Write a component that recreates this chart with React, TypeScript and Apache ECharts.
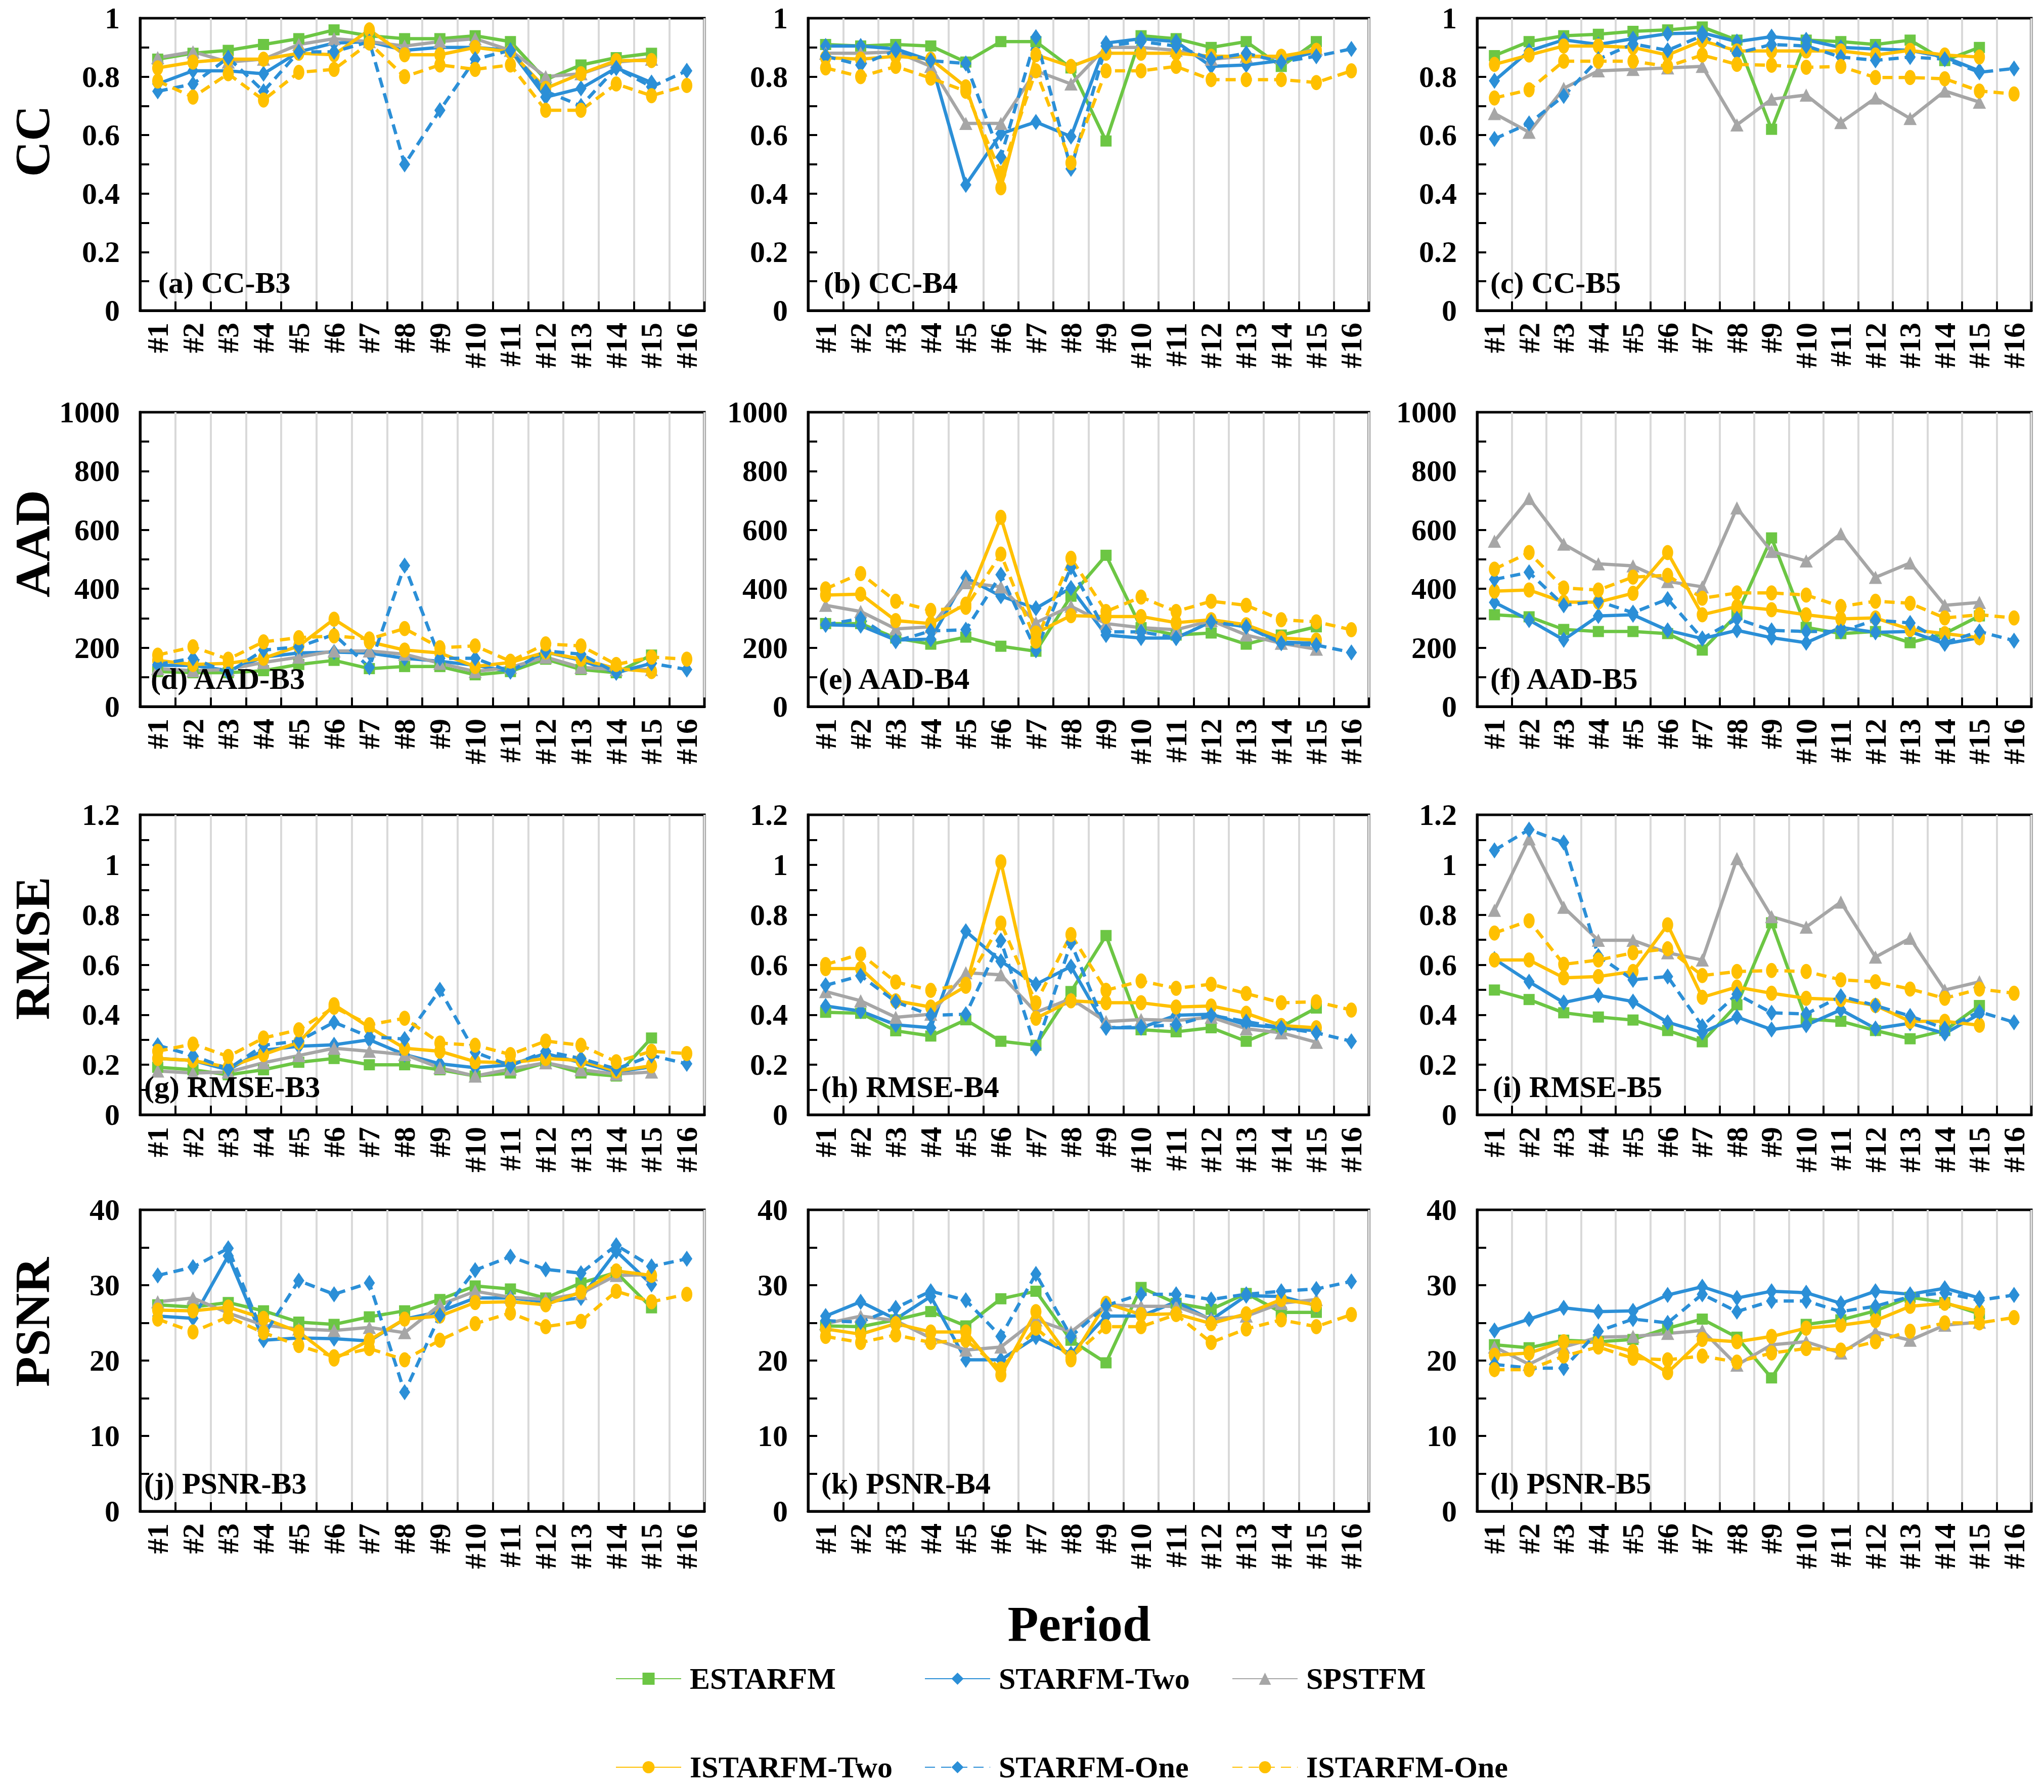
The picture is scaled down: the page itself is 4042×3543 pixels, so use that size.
import React, { useEffect, useRef } from 'react';
import * as echarts from 'echarts';

const PERIODS = ['#1', '#2', '#3', '#4', '#5', '#6', '#7', '#8', '#9', '#10', '#11', '#12', '#13', '#14', '#15', '#16'];
const METHODS = ['ESTARFM', 'STARFM-Two', 'SPSTFM', 'ISTARFM-Two', 'STARFM-One', 'ISTARFM-One'];
const ROW_NAMES = ['CC', 'AAD', 'RMSE', 'PSNR'];
const ROW_MAX = [1, 1000, 1.2, 40];
const ROW_INTERVAL = [0.2, 200, 0.2, 10];
const PANEL_LABELS = ['(a) CC-B3', '(b) CC-B4', '(c) CC-B5', '(d) AAD-B3', '(e) AAD-B4', '(f) AAD-B5', '(g) RMSE-B3', '(h) RMSE-B4', '(i) RMSE-B5', '(j) PSNR-B3', '(k) PSNR-B4', '(l) PSNR-B5'];

// each panel: [ESTARFM, STARFM-Two, SPSTFM, ISTARFM-Two, STARFM-One, ISTARFM-One]
const CC_B3 = [
  [0.86, 0.88, 0.89, 0.91, 0.93, 0.96, 0.94, 0.93, 0.93, 0.94, 0.92, 0.79, 0.84, 0.865, 0.88],
  [0.775, 0.82, 0.82, 0.81, 0.885, 0.915, 0.92, 0.89, 0.9, 0.9, 0.89, 0.73, 0.76, 0.83, 0.78],
  [0.865, 0.885, 0.85, 0.86, 0.91, 0.93, 0.92, 0.905, 0.92, 0.93, 0.89, 0.8, 0.81, 0.85, 0.86],
  [0.83, 0.85, 0.86, 0.86, 0.88, 0.875, 0.96, 0.875, 0.875, 0.9, 0.885, 0.76, 0.81, 0.855, 0.855],
  [0.75, 0.775, 0.865, 0.75, 0.885, 0.885, 0.92, 0.5, 0.685, 0.86, 0.89, 0.75, 0.7, 0.83, 0.765, 0.82],
  [0.785, 0.73, 0.81, 0.72, 0.815, 0.825, 0.915, 0.8, 0.84, 0.825, 0.84, 0.685, 0.685, 0.775, 0.735, 0.77],
];
const CC_B4 = [
  [0.91, 0.905, 0.91, 0.905, 0.85, 0.92, 0.92, 0.83, 0.58, 0.94, 0.93, 0.9, 0.92, 0.835, 0.92],
  [0.905, 0.905, 0.895, 0.855, 0.43, 0.605, 0.645, 0.595, 0.915, 0.93, 0.92, 0.835, 0.84, 0.855, 0.885],
  [0.88, 0.88, 0.885, 0.835, 0.64, 0.64, 0.82, 0.775, 0.9, 0.9, 0.89, 0.86, 0.87, 0.865, 0.895],
  [0.865, 0.86, 0.87, 0.86, 0.765, 0.42, 0.875, 0.835, 0.88, 0.88, 0.88, 0.87, 0.87, 0.87, 0.89],
  [0.87, 0.84, 0.89, 0.855, 0.845, 0.525, 0.935, 0.485, 0.905, 0.92, 0.905, 0.86, 0.88, 0.85, 0.87, 0.895],
  [0.83, 0.8, 0.835, 0.795, 0.75, 0.47, 0.82, 0.505, 0.82, 0.82, 0.835, 0.79, 0.79, 0.79, 0.78, 0.82],
];
const CC_B5 = [
  [0.872, 0.92, 0.94, 0.945, 0.955, 0.96, 0.97, 0.925, 0.62, 0.925, 0.92, 0.91, 0.925, 0.855, 0.9],
  [0.786, 0.888, 0.926, 0.91, 0.93, 0.947, 0.95, 0.92, 0.937, 0.926, 0.9, 0.895, 0.89, 0.867, 0.82],
  [0.674, 0.61, 0.76, 0.82, 0.825, 0.83, 0.835, 0.635, 0.723, 0.737, 0.643, 0.727, 0.657, 0.751, 0.713],
  [0.842, 0.874, 0.905, 0.905, 0.9, 0.874, 0.923, 0.888, 0.888, 0.888, 0.888, 0.874, 0.89, 0.874, 0.867],
  [0.587, 0.64, 0.734, 0.86, 0.912, 0.89, 0.94, 0.88, 0.91, 0.905, 0.867, 0.856, 0.867, 0.86, 0.815, 0.828],
  [0.727, 0.755, 0.853, 0.853, 0.853, 0.835, 0.874, 0.842, 0.839, 0.832, 0.835, 0.797, 0.797, 0.793, 0.751, 0.741],
];
const AAD_B3 = [
  [119, 115, 115, 122, 143, 157, 129, 136, 136, 108, 119, 161, 126, 115, 175],
  [140, 140, 122, 168, 182, 185, 182, 164, 154, 140, 119, 185, 157, 115, 147],
  [129, 122, 126, 150, 168, 189, 189, 178, 147, 119, 133, 168, 133, 126, 126],
  [157, 143, 147, 164, 206, 297, 220, 192, 182, 136, 150, 185, 161, 129, 119],
  [143, 164, 115, 192, 203, 245, 133, 479, 164, 164, 119, 189, 178, 115, 147, 126],
  [175, 203, 161, 220, 234, 240, 230, 265, 200, 206, 154, 213, 206, 143, 168, 161],
];
const AAD_B4 = [
  [282, 282, 233, 212, 236, 205, 188, 375, 514, 268, 243, 250, 212, 243, 271],
  [278, 275, 226, 229, 438, 375, 334, 403, 243, 233, 233, 288, 271, 219, 215],
  [344, 323, 264, 271, 421, 407, 285, 341, 282, 268, 261, 292, 243, 215, 195],
  [379, 382, 292, 282, 348, 643, 250, 309, 306, 306, 285, 295, 278, 233, 226],
  [278, 299, 222, 257, 261, 448, 191, 473, 254, 254, 233, 288, 271, 215, 209, 184],
  [400, 452, 358, 327, 337, 518, 222, 504, 323, 372, 323, 358, 344, 295, 288, 261],
];
const AAD_B5 = [
  [312, 305, 262, 255, 255, 248, 192, 312, 573, 269, 248, 255, 217, 248, 308],
  [354, 294, 227, 308, 312, 259, 231, 259, 234, 217, 269, 252, 255, 213, 234],
  [562, 707, 552, 485, 478, 425, 407, 675, 527, 495, 587, 439, 488, 344, 354],
  [392, 396, 355, 355, 385, 523, 312, 340, 329, 312, 298, 301, 262, 248, 234],
  [432, 456, 344, 358, 319, 365, 231, 298, 259, 255, 255, 294, 284, 217, 255, 224],
  [467, 523, 403, 396, 440, 446, 368, 386, 386, 379, 340, 358, 351, 301, 312, 301],
];
const RMSE_B3 = [
  [0.19, 0.18, 0.16, 0.18, 0.21, 0.225, 0.2, 0.2, 0.18, 0.155, 0.167, 0.208, 0.167, 0.155, 0.307],
  [0.225, 0.217, 0.18, 0.258, 0.274, 0.28, 0.3, 0.241, 0.204, 0.188, 0.2, 0.245, 0.208, 0.171, 0.192],
  [0.175, 0.167, 0.171, 0.208, 0.237, 0.266, 0.254, 0.241, 0.188, 0.155, 0.183, 0.208, 0.18, 0.163, 0.171],
  [0.225, 0.217, 0.19, 0.241, 0.29, 0.44, 0.35, 0.266, 0.254, 0.212, 0.208, 0.225, 0.217, 0.175, 0.196],
  [0.278, 0.237, 0.183, 0.278, 0.295, 0.37, 0.312, 0.303, 0.5, 0.25, 0.196, 0.254, 0.225, 0.183, 0.237, 0.204],
  [0.254, 0.283, 0.233, 0.307, 0.34, 0.43, 0.36, 0.386, 0.287, 0.278, 0.241, 0.295, 0.278, 0.212, 0.254, 0.245],
];
const RMSE_B4 = [
  [0.41, 0.406, 0.336, 0.315, 0.38, 0.294, 0.278, 0.493, 0.717, 0.34, 0.332, 0.348, 0.294, 0.352, 0.427],
  [0.435, 0.415, 0.36, 0.348, 0.734, 0.614, 0.522, 0.593, 0.348, 0.348, 0.398, 0.402, 0.36, 0.348, 0.336],
  [0.493, 0.456, 0.39, 0.402, 0.568, 0.56, 0.41, 0.464, 0.373, 0.381, 0.377, 0.39, 0.344, 0.328, 0.29],
  [0.585, 0.585, 0.456, 0.431, 0.514, 1.012, 0.386, 0.456, 0.448, 0.448, 0.431, 0.435, 0.406, 0.357, 0.348],
  [0.518, 0.556, 0.452, 0.398, 0.402, 0.697, 0.265, 0.688, 0.348, 0.352, 0.36, 0.398, 0.373, 0.348, 0.328, 0.294],
  [0.601, 0.643, 0.531, 0.498, 0.522, 0.767, 0.448, 0.721, 0.498, 0.535, 0.506, 0.522, 0.485, 0.448, 0.452, 0.419],
];
const RMSE_B5 = [
  [0.499, 0.461, 0.408, 0.391, 0.379, 0.337, 0.292, 0.44, 0.768, 0.383, 0.374, 0.337, 0.304, 0.337, 0.437],
  [0.623, 0.532, 0.449, 0.478, 0.453, 0.37, 0.329, 0.391, 0.341, 0.358, 0.42, 0.345, 0.366, 0.325, 0.403],
  [0.818, 1.104, 0.83, 0.698, 0.698, 0.648, 0.619, 1.025, 0.793, 0.751, 0.851, 0.631, 0.706, 0.499, 0.532],
  [0.619, 0.619, 0.548, 0.553, 0.573, 0.76, 0.47, 0.511, 0.486, 0.466, 0.461, 0.437, 0.374, 0.374, 0.358],
  [1.058, 1.141, 1.089, 0.635, 0.54, 0.553, 0.354, 0.482, 0.408, 0.403, 0.474, 0.437, 0.395, 0.345, 0.412, 0.37],
  [0.727, 0.776, 0.602, 0.619, 0.648, 0.664, 0.557, 0.573, 0.577, 0.573, 0.54, 0.532, 0.503, 0.466, 0.503, 0.486],
];
const PSNR_B3 = [
  [27.4, 27.1, 27.7, 26.6, 25.1, 24.8, 25.8, 26.6, 28.1, 29.9, 29.5, 28.3, 30.3, 31.7, 27.0],
  [25.9, 25.6, 33.9, 22.7, 23.0, 22.9, 22.6, 25.5, 26.5, 28.3, 28.3, 27.8, 28.3, 34.5, 30.1],
  [27.8, 28.3, 26.3, 24.7, 24.2, 24.0, 24.4, 23.7, 27.4, 29.2, 28.4, 28.1, 28.9, 31.3, 31.4],
  [26.7, 26.6, 27.1, 25.6, 23.8, 20.2, 22.7, 25.5, 25.9, 27.7, 27.8, 27.4, 29.1, 31.9, 31.3],
  [31.3, 32.4, 34.9, 23.3, 30.6, 28.8, 30.3, 15.8, 26.0, 32.0, 33.8, 32.1, 31.6, 35.3, 32.5, 33.5],
  [25.5, 23.8, 25.8, 23.7, 22.0, 20.5, 21.6, 20.1, 22.7, 24.9, 26.3, 24.5, 25.2, 29.2, 27.8, 28.8],
];
const PSNR_B4 = [
  [24.6, 24.5, 25.4, 26.5, 24.6, 28.2, 29.2, 22.7, 19.7, 29.7, 27.6, 26.8, 28.9, 26.4, 26.4],
  [25.9, 27.8, 25.5, 28.5, 20.1, 20.1, 23.1, 20.9, 25.9, 25.9, 27.8, 25.4, 28.6, 28.5, 27.3],
  [24.9, 25.9, 25.3, 23.0, 21.4, 21.8, 25.4, 23.8, 27.4, 27.2, 27.2, 25.5, 25.9, 27.6, 28.1],
  [24.2, 23.5, 24.9, 23.8, 23.8, 18.1, 26.5, 20.1, 27.6, 26.1, 26.2, 24.9, 26.2, 28.1, 27.4],
  [25.3, 25.1, 27.0, 29.2, 28.0, 23.2, 31.5, 23.2, 27.3, 28.8, 28.8, 28.1, 28.8, 29.2, 29.5, 30.5],
  [23.2, 22.4, 23.4, 22.4, 22.7, 18.9, 24.3, 20.4, 24.5, 24.5, 26.1, 22.4, 24.2, 25.4, 24.5, 26.1],
];
const PSNR_B5 = [
  [22.1, 21.7, 22.7, 22.5, 22.8, 24.3, 25.5, 23.1, 17.7, 24.8, 25.4, 26.6, 28.4, 27.7, 26.2],
  [24.0, 25.5, 27.0, 26.5, 26.6, 28.7, 29.8, 28.3, 29.2, 29.0, 27.6, 29.2, 28.8, 29.6, 28.3],
  [21.8, 19.5, 21.8, 23.1, 23.2, 23.6, 24.0, 19.4, 22.1, 22.5, 21.0, 23.8, 22.7, 24.7, 25.1],
  [20.7, 21.0, 22.5, 22.4, 21.2, 18.4, 22.8, 22.5, 23.2, 24.3, 24.7, 25.3, 27.2, 27.6, 26.5],
  [19.5, 19.0, 19.0, 23.9, 25.5, 25.0, 28.8, 26.5, 27.9, 27.9, 26.5, 27.2, 28.5, 29.0, 28.0, 28.7],
  [18.8, 18.8, 20.6, 21.8, 20.3, 20.1, 20.6, 19.8, 21.0, 21.6, 21.4, 22.5, 23.9, 25.0, 25.0, 25.7],
];

const PANELS = [CC_B3, CC_B4, CC_B5, AAD_B3, AAD_B4, AAD_B5, RMSE_B3, RMSE_B4, RMSE_B5, PSNR_B3, PSNR_B4, PSNR_B5];

const FONT = '"Liberation Serif", "Times New Roman", serif';
const COLORS = ['#6CC644', '#2B8FD7', '#A6A6A6', '#FFC000', '#2B8FD7', '#FFC000'];
const SYMBOLS = ['rect', 'diamond', 'triangle', 'circle', 'diamond', 'circle'];
const SYMBOL_SIZES: any[] = [22, [22, 32], 26, [22, 30], [22, 32], [22, 30]];
const DASHED = [false, false, false, false, true, true];

const COLS = [{ left: 277, right: 1393 }, { left: 1598, right: 2707 }, { left: 2921, right: 4017 }];
const ROWS = [{ top: 36, bottom: 614 }, { top: 815, bottom: 1397 }, { top: 1611, bottom: 2204 }, { top: 2392, bottom: 2988 }];
const ROW_LABEL_Y = [279, 1075, 1875, 2614];
const LABEL_OFFSETS = [36, 31, 26, 21, 21, 26, 8, 26, 31, 8, 26, 26];
const LEGEND_POS = [[1212, 3318], [1823, 3318], [2431, 3318], [1212, 3493], [1823, 3493], [2431, 3493]];

function buildOption() {
  const grid: any[] = [];
  const xAxis: any[] = [];
  const yAxis: any[] = [];
  const series: any[] = [];
  const graphic: any[] = [];
  for (let i = 0; i < 12; i++) {
    const r = Math.floor(i / 3);
    const c = i % 3;
    const col = COLS[c];
    const row = ROWS[r];
    grid.push({
      left: col.left, top: row.top, width: col.right - col.left, height: row.bottom - row.top,
      show: true, borderColor: '#000', borderWidth: 5, backgroundColor: 'transparent',
      containLabel: false, outerBoundsMode: 'none',
    });
    xAxis.push({
      type: 'category', gridIndex: i, data: PERIODS, boundaryGap: true,
      axisLine: { show: true, lineStyle: { color: '#000', width: 5 } },
      axisTick: { show: true, inside: true, length: 18, lineStyle: { color: '#000', width: 4 } },
      axisLabel: { rotate: 90, interval: 0, margin: 24, color: '#000', fontFamily: FONT, fontWeight: 'bold', fontSize: 60 },
      splitLine: { show: true, interval: 0, lineStyle: { color: '#D9D9D9', width: 4 } },
    });
    yAxis.push({
      type: 'value', gridIndex: i, min: 0, max: ROW_MAX[r], interval: ROW_INTERVAL[r],
      axisLine: { show: true, lineStyle: { color: '#000', width: 5 } },
      axisTick: { show: true, inside: true, length: 18, lineStyle: { color: '#000', width: 4 } },
      minorTick: { show: true, splitNumber: 2, length: 18, lineStyle: { color: '#000', width: 4 } },
      splitLine: { show: false },
      axisLabel: {
        margin: 40, color: '#000', fontFamily: FONT, fontWeight: 'bold', fontSize: 60,
        formatter: (v: number) => String(Math.round(v * 1000) / 1000),
      },
    });
    const panel = PANELS[i];
    METHODS.forEach((m, k) => {
      series.push({
        name: m, type: 'line', xAxisIndex: i, yAxisIndex: i, data: panel[k],
        symbol: SYMBOLS[k], symbolSize: SYMBOL_SIZES[k], showSymbol: true,
        lineStyle: { color: COLORS[k], width: 6.5, type: DASHED[k] ? [20, 12] : 'solid' },
        itemStyle: { color: COLORS[k] },
        emphasis: { disabled: true },
      });
    });
    graphic.push({
      type: 'text', z: 100, x: col.left + LABEL_OFFSETS[i], y: row.bottom - 55,
      style: { text: PANEL_LABELS[i], fill: '#000', font: `bold 60px ${FONT}`, align: 'left', verticalAlign: 'middle' },
    });
  }
  ROW_NAMES.forEach((name, r) => {
    graphic.push({
      type: 'text', x: 64, y: ROW_LABEL_Y[r], rotation: Math.PI / 2,
      style: { text: name, fill: '#000', font: `bold 98px ${FONT}`, align: 'center', verticalAlign: 'middle' },
    });
  });
  graphic.push({
    type: 'text', x: 2134, y: 3210,
    style: { text: 'Period', fill: '#000', font: `bold 100px ${FONT}`, align: 'center', verticalAlign: 'middle' },
  });
  const legend = METHODS.map((m, k) => ({
    data: [m], left: LEGEND_POS[k][0], top: LEGEND_POS[k][1] - 34, orient: 'horizontal',
    itemWidth: 129, itemHeight: 30, selectedMode: false,
    textStyle: { color: '#000', fontFamily: FONT, fontWeight: 'bold', fontSize: 60, padding: [0, 0, 0, 12] },
  }));
  return {
    animation: false,
    backgroundColor: '#fff',
    grid, xAxis, yAxis, series, graphic, legend,
  };
}

export default function App() {
  const ref = useRef<HTMLDivElement>(null);
  useEffect(() => {
    document.body.style.margin = '0';
    if (!ref.current) return;
    const chart = echarts.init(ref.current, null, { renderer: 'svg' });
    chart.setOption(buildOption() as any);
    return () => chart.dispose();
  }, []);
  return <div ref={ref} style={{ width: 4042, height: 3543 }} />;
}
